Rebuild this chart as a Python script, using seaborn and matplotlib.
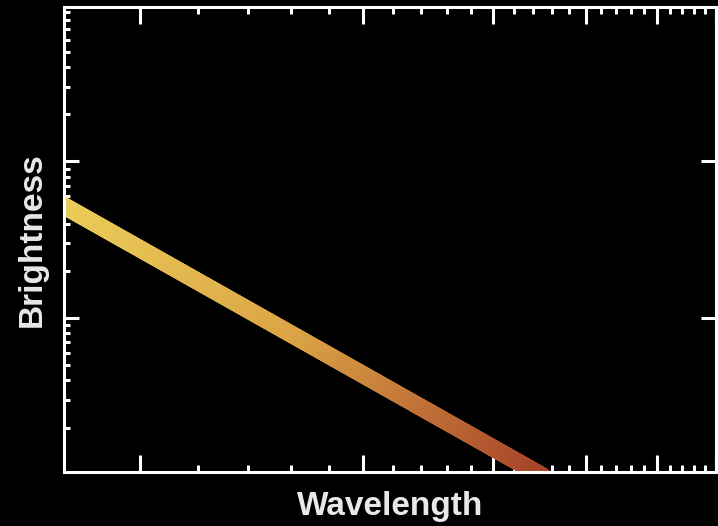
import numpy as np
import matplotlib
matplotlib.use("Agg")
import matplotlib.pyplot as plt
from matplotlib.collections import LineCollection
from matplotlib.colors import LinearSegmentedColormap
from matplotlib.ticker import FixedLocator, LogLocator, NullFormatter
import seaborn as sns

# data (log-log, straight power law)
wavelength = [0.76, 3.5]
brightness = [0.577, 0.0098]

x_major = [1, 2, 3, 4, 5, 6]
x_minor = [1.2, 1.4, 1.6, 1.8, 2.2, 2.4, 2.6, 2.8, 3.2, 3.4, 3.6, 3.8,
           4.2, 4.4, 4.6, 4.8, 5.2, 5.4, 5.6, 5.8]
y_major = [0.1, 1]

line_colors = ["#ecd05a", "#dba446", "#a8442a"]

sns.set_theme(style="ticks", rc={
    "figure.facecolor": "black",
    "axes.facecolor": "black",
    "axes.edgecolor": "white",
    "axes.linewidth": 2.2,
})
plt.rcParams["font.family"] = ["Liberation Sans", "DejaVu Sans"]

fig = plt.figure(figsize=(7.18, 5.26), dpi=100)
ax = fig.add_axes([0.0891, 0.1027, 0.9972 - 0.0891, 0.9867 - 0.1027])
ax.set_xscale("log")
ax.set_yscale("log")
ax.set_xlim(0.79, 6.0)
ax.set_ylim(0.0104, 9.7)

# gradient band: split the straight segment in log space so colour can vary
t = np.linspace(0, 1, 300)
lx = np.log10(wavelength)
ly = np.log10(brightness)
xs = 10 ** (lx[0] + t * (lx[1] - lx[0]))
ys = 10 ** (ly[0] + t * (ly[1] - ly[0]))
pts = np.column_stack([xs, ys]).reshape(-1, 1, 2)
segs = np.concatenate([pts[:-1], pts[1:]], axis=1)
cmap = LinearSegmentedColormap.from_list("band", line_colors)
lc = LineCollection(segs, colors=cmap(t[:-1]), linewidths=12.5, capstyle="round", zorder=2)
ax.add_collection(lc)

ax.xaxis.set_major_locator(FixedLocator(x_major))
ax.xaxis.set_minor_locator(FixedLocator(x_minor))
ax.yaxis.set_major_locator(FixedLocator(y_major))
ax.yaxis.set_minor_locator(LogLocator(base=10, subs=np.arange(2, 10)))
ax.xaxis.set_major_formatter(NullFormatter())
ax.xaxis.set_minor_formatter(NullFormatter())
ax.yaxis.set_major_formatter(NullFormatter())
ax.yaxis.set_minor_formatter(NullFormatter())

ax.tick_params(axis="x", which="both", direction="in", colors="white", width=2.2,
               top=True, bottom=True, labelbottom=False)
ax.tick_params(axis="x", which="major", length=12)
ax.tick_params(axis="x", which="minor", length=5)
ax.tick_params(axis="y", which="both", direction="in", colors="white", width=2.2,
               left=True, right=True, labelleft=False)
ax.tick_params(axis="y", which="major", length=11)
ax.tick_params(axis="y", which="minor", length=4, right=False)

for s in ax.spines.values():
    s.set_zorder(5)

ax.set_xlabel("Wavelength", fontsize=24, fontweight="bold", color="#e8e8e8", labelpad=14)
ax.set_ylabel("Brightness", fontsize=24, fontweight="bold", color="#e8e8e8", labelpad=12)

fig.savefig("out.png", dpi=100, facecolor="black")
